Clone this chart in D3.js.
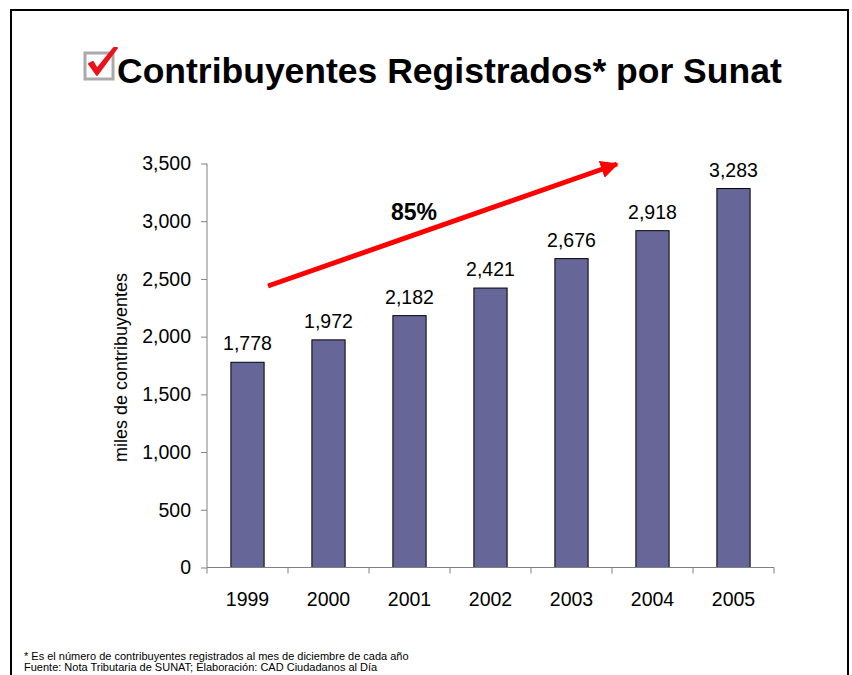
<!DOCTYPE html>
<html>
<head>
<meta charset="utf-8">
<script src="https://cdn.jsdelivr.net/npm/d3@7"></script>
<style>
  body { margin: 0; background: #fff; }
  svg { font-family: Arial, "Liberation Sans", sans-serif; }
</style>
</head>
<body>
<div id="chart"></div>
<script>
// data
var years = ["1999", "2000", "2001", "2002", "2003", "2004", "2005"];
var contribuyentes = [1778, 1972, 2182, 2421, 2676, 2918, 3283];
var yTicks = [0, 500, 1000, 1500, 2000, 2500, 3000, 3500];

var width = 852;
var height = 675;

var svg = d3.select("#chart")
  .append("svg")
  .attr("width", width)
  .attr("height", height);

// slide frame
svg.append("rect")
  .attr("x", 11).attr("y", 10)
  .attr("width", 837).attr("height", 700)
  .attr("fill", "none")
  .attr("stroke", "#000")
  .attr("stroke-width", 2);

// checkbox icon
var icon = svg.append("g");
icon.append("rect")
  .attr("x", 85).attr("y", 53)
  .attr("width", 28).attr("height", 26)
  .attr("fill", "#fff")
  .attr("stroke", "#aaa")
  .attr("stroke-width", 3);
icon.append("path")
  .attr("d", "M89,64 L97,75 L117,48 L114,48 L97,69 L93,62 Z")
  .attr("fill", "#e8141c")
  .attr("stroke", "#e8141c")
  .attr("stroke-width", 2)
  .attr("stroke-linejoin", "round");

// title
svg.append("text")
  .attr("x", 117).attr("y", 83)
  .attr("font-size", 35.5)
  .attr("font-weight", "bold")
  .text("Contribuyentes Registrados* por Sunat");

// plot area
var plotLeft = 207, plotRight = 774, plotTop = 163.5, plotBottom = 567.5;

var x = d3.scaleBand()
  .domain(years)
  .range([plotLeft, plotRight])
  .paddingInner(0.59)
  .paddingOuter(0.295);

var y = d3.scaleLinear()
  .domain([0, 3500])
  .range([plotBottom, plotTop]);

var yAxis = d3.axisLeft(y).tickValues(yTicks).tickSize(6).tickSizeOuter(0)
  .tickFormat(d3.format(","));

var gy = svg.append("g")
  .attr("transform", "translate(" + plotLeft + ",0)")
  .call(yAxis);
gy.select(".domain").remove();
gy.append("line")
  .attr("y1", plotTop).attr("y2", plotBottom)
  .attr("stroke", "#808080");
gy.selectAll("line").attr("stroke", "#808080");
gy.selectAll("text")
  .attr("font-size", 19.5)
  .attr("font-family", "Arial, 'Liberation Sans', sans-serif")
  .attr("fill", "#000")
  .attr("x", -16);

// bars
svg.selectAll(".bar")
  .data(contribuyentes)
  .enter()
  .append("rect")
  .attr("class", "bar")
  .attr("x", function(d, i) { return x(years[i]); })
  .attr("y", function(d) { return y(d); })
  .attr("width", x.bandwidth())
  .attr("height", function(d) { return plotBottom - y(d); })
  .attr("fill", "#666699")
  .attr("stroke", "#000")
  .attr("stroke-width", 1);

// x axis with ticks between categories
var gx = svg.append("g")
  .attr("transform", "translate(0," + plotBottom + ")");
gx.append("line")
  .attr("x1", plotLeft).attr("x2", plotRight)
  .attr("stroke", "#808080");
var bounds = [plotLeft].concat(years.map(function(yr) { return x(yr) + x.bandwidth() + x.step() * 0.295; }));
gx.selectAll(".tk")
  .data(bounds)
  .enter()
  .append("line")
  .attr("x1", function(d) { return d; })
  .attr("x2", function(d) { return d; })
  .attr("y1", 0).attr("y2", 6)
  .attr("stroke", "#808080");
gx.selectAll(".xl")
  .data(years)
  .enter()
  .append("text")
  .attr("x", function(d) { return x(d) + x.bandwidth() / 2; })
  .attr("y", 38)
  .attr("text-anchor", "middle")
  .attr("font-size", 19.5)
  .text(function(d) { return d; });

// value labels
svg.selectAll(".val")
  .data(contribuyentes)
  .enter()
  .append("text")
  .attr("class", "val")
  .attr("x", function(d, i) { return x(years[i]) + x.bandwidth() / 2; })
  .attr("y", function(d) { return y(d) - 12; })
  .attr("text-anchor", "middle")
  .attr("font-size", 19.5)
  .text(function(d) { return d3.format(",")(d); });

// y axis title
svg.append("text")
  .attr("transform", "translate(127," + ((plotTop + plotBottom) / 2 + 2) + ")rotate(-90)")
  .attr("text-anchor", "middle")
  .attr("font-size", 18)
  .text("miles de contribuyentes");

// growth arrow
svg.append("defs").append("marker")
  .attr("id", "head")
  .attr("viewBox", "0 0 10 10")
  .attr("refX", 9).attr("refY", 5)
  .attr("markerWidth", 3.6).attr("markerHeight", 3.6)
  .attr("orient", "auto")
  .append("path")
  .attr("d", "M0,0 L10,5 L0,10 Z")
  .attr("fill", "#ff0000");

svg.append("line")
  .attr("x1", 268).attr("y1", 286)
  .attr("x2", 617).attr("y2", 164)
  .attr("stroke", "#ff0000")
  .attr("stroke-width", 5)
  .attr("marker-end", "url(#head)");

svg.append("text")
  .attr("x", 414).attr("y", 220)
  .attr("text-anchor", "middle")
  .attr("font-size", 23)
  .attr("font-weight", "bold")
  .text("85%");

// footnotes
svg.append("text")
  .attr("x", 24).attr("y", 660)
  .attr("font-size", 11)
  .text("* Es el número de contribuyentes registrados al mes de diciembre de cada año");
svg.append("text")
  .attr("x", 24).attr("y", 671)
  .attr("font-size", 11)
  .text("Fuente: Nota Tributaria de SUNAT; Elaboración: CAD Ciudadanos al Día");
</script>
</body>
</html>
